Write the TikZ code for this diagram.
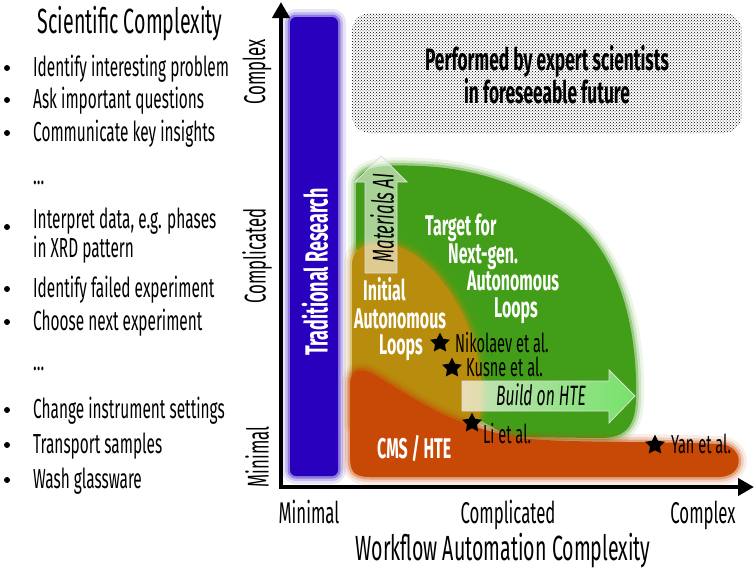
\documentclass[tikz,border=0pt]{standalone}
\usepackage{fontspec}
\setmainfont{Fira Sans}[FakeStretch=0.56]
\usetikzlibrary{arrows.meta,shapes.geometric,patterns}
\definecolor{tradblue}{RGB}{40,0,190}
\definecolor{nextgreen}{RGB}{66,158,24}
\definecolor{initgold}{RGB}{184,140,12}
\definecolor{cmsorange}{RGB}{200,72,6}
\newcommand\softfill[2]{%
  \foreach \w/\o in {16/0.10,10/0.18,5/0.35}{\draw[#1,line width=\w pt,opacity=\o,line join=round] #2;}
  \fill[#1] #2;}
\tikzset{
  item/.style={font=\fontsize{27.5}{22}\selectfont, inner sep=0, anchor=base west},
  bul/.style={circle, fill=black, minimum size=6pt, inner sep=0},
  axlbl/.style={font=\fontsize{30}{32}\selectfont, inner sep=0},
  wlbl/.style={font=\bfseries\fontsize{28.5}{30}\selectfont, text=white, inner sep=0},
  ref/.style={font=\fontsize{26}{28}\selectfont, inner sep=0, anchor=base west},
  starmark/.style={star, star points=5, star point ratio=2.0, fill=black, minimum size=21pt, inner sep=0},
  axis/.style={line width=4pt, line cap=rect, -{Triangle[length=16pt,width=17pt]}},
}
\begin{document}
\begin{tikzpicture}[x=1pt,y=-1pt]
\useasboundingbox (0,0) rectangle (756,568);
% ---------- left list ----------
\node[font=\fontsize{35}{38}\selectfont, inner sep=0, anchor=base] (title) at (130,33) {Scientific Complexity};
\foreach \y/\t [count=\i] in {76/Identify interesting problem, 108/Ask important questions, 141/Communicate key insights,
  297/Identify failed experiment, 330/Choose next experiment,
  418/Change instrument settings, 453/Transport samples, 488/Wash glassware}{
  \node[bul] (b\i) at (7,\y-8) {};
  \node[item] (t\i) at (33,\y) {\t};
}
\node[bul] (b9) at (7,227) {};
\node[item, align=left] (t9) at (33,257) {Interpret data, e.g. phases\\in XRD pattern};
\node[item] (dots1) at (33,184) {...};
\node[item] (dots2) at (33,370) {...};
% ---------- dotted box ----------
\fill[pattern=crosshatch dots, pattern color=black, rounded corners=18pt] (352,13) rectangle (742,133);
\node[font=\bfseries\fontsize{31}{27}\selectfont, align=center, inner sep=0] (expert) at (547,75)
  {Performed by expert scientists\\in foreseeable future};
% ---------- blue bar ----------
\softfill{tradblue}{[rounded corners=6pt] (290,17) rectangle (338,476)}
\node[wlbl, font=\bfseries\fontsize{32}{34}\selectfont, rotate=90] (trad) at (315,272) {Traditional Research};
% ---------- regions ----------
\softfill{nextgreen}{(356,250) -- (356,185) .. controls (358,166) and (380,164) .. (420,166) .. controls (480,168) and (540,190) .. (580,225) .. controls (620,262) and (638,330) .. (636,400) .. controls (635,430) and (622,438) .. (600,438) -- (510,437) -- (480,420) -- (440,300) -- (380,250) -- cycle}
\softfill{initgold}{(352,425) -- (352,265) .. controls (352,245) and (370,242) .. (392,245) .. controls (430,252) and (470,310) .. (478,360) .. controls (484,395) and (485,420) .. (470,428) -- cycle}
\softfill{cmsorange}{(350,385) .. controls (350,368) and (362,366) .. (380,378) .. controls (420,402) and (450,425) .. (520,438) .. controls (560,443) and (650,441) .. (720,444) .. controls (745,446) and (745,476) .. (720,477) -- (370,477) .. controls (352,477) and (350,470) .. (350,455) -- cycle}
% ---------- arrows ----------
\fill[white, fill opacity=0.55] (365,273) -- (365,182) -- (355,182) -- (381,156) -- (407,182) -- (397,182) -- (397,273) -- cycle;
\draw[white!75!gray, line width=0.8pt] (365,273) -- (365,182) -- (355,182) -- (381,156) -- (407,182) -- (397,182) -- (397,273) -- cycle;
\node[font=\itshape\fontsize{30}{32}\selectfont, rotate=90, inner sep=0] (matai) at (382,218) {Materials AI};
\shade[left color=white, right color=green!45!white, fill opacity=0.7] (462,381) -- (609,381) -- (609,370) -- (635,396) -- (609,423) -- (609,411) -- (462,411) -- cycle;
\draw[white!75!gray, line width=0.8pt] (462,381) -- (609,381) -- (609,370) -- (635,396) -- (609,423) -- (609,411) -- (462,411) -- cycle;
\node[font=\itshape\fontsize{28}{30}\selectfont, inner sep=0, anchor=base] (hte) at (541,405) {Build on HTE};
% ---------- region labels ----------
\node[wlbl, anchor=base west] (tg1) at (425,235) {Target for};
\node[wlbl, anchor=base west] (tg2) at (448,263) {Next-gen.};
\node[wlbl, anchor=base west] (tg3) at (467,290) {Autonomous};
\node[wlbl, anchor=base west] (tg4) at (494,317) {Loops};
\node[wlbl, anchor=base west] (in1) at (363,300) {Initial};
\node[wlbl, anchor=base west] (in2) at (354,328) {Autonomous};
\node[wlbl, anchor=base west] (in3) at (379,354) {Loops};
\node[wlbl, anchor=base west] (cms) at (377,458) {CMS / HTE};
% ---------- stars ----------
\node[starmark] (s1) at (440,343) {};
\node[ref] (r1) at (455,352) {Nikolaev et al.};
\node[starmark] (s2) at (452,368) {};
\node[ref] (r2) at (466,376) {Kusne et al.};
\node[starmark] (s3) at (472,423) {};
\node[ref] (r3) at (483,443) {Li et al.};
\node[starmark] (s4) at (655,445) {};
\node[ref] (r4) at (671,453) {Yan et al.};
% ---------- axes ----------
\coordinate (O) at (281,487);
\coordinate (ytop) at (281,2);
\coordinate (xend) at (754,487);
\draw[axis] (O) -- (ytop);
\draw[axis] (O) -- (xend);
\node[axlbl, rotate=90] (yc) at (257,72) {Complex};
\node[axlbl, rotate=90] (yd) at (257,256) {Complicated};
\node[axlbl, rotate=90] (ym) at (257,457) {Minimal};
\node[axlbl, anchor=base] (xm) at (309,523) {Minimal};
\node[axlbl, anchor=base] (xd) at (508,523) {Complicated};
\node[axlbl, anchor=base] (xc) at (703,523) {Complex};
\node[font=\fontsize{35}{38}\selectfont, inner sep=0, anchor=base] (xtitle) at (503,560) {Workflow Automation Complexity};
\end{tikzpicture}
\end{document}
